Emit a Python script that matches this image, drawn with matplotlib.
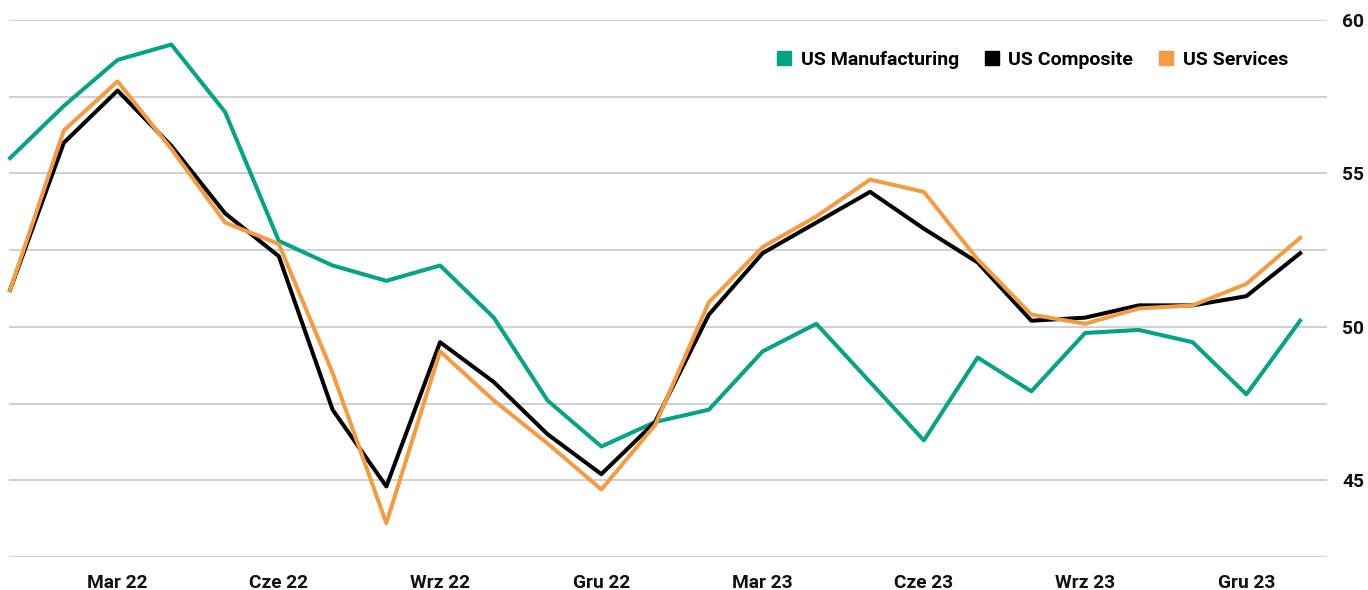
import matplotlib.pyplot as plt
from matplotlib.lines import Line2D
from matplotlib.ticker import MultipleLocator, FuncFormatter
import numpy as np

months = ["Sty 22", "Lut 22", "Mar 22", "Kwi 22", "Maj 22", "Cze 22", "Lip 22",
          "Sie 22", "Wrz 22", "Paź 22", "Lis 22", "Gru 22",
          "Sty 23", "Lut 23", "Mar 23", "Kwi 23", "Maj 23", "Cze 23", "Lip 23",
          "Sie 23", "Wrz 23", "Paź 23", "Lis 23", "Gru 23", "Sty 24"]

manufacturing = [55.5, 57.2, 58.7, 59.2, 57.0, 52.8, 52.0, 51.5, 52.0, 50.3,
                 47.6, 46.1, 46.9, 47.3, 49.2, 50.1, 48.2, 46.3, 49.0, 47.9,
                 49.8, 49.9, 49.5, 47.8, 50.2]
composite = [51.2, 56.0, 57.7, 55.9, 53.7, 52.3, 47.3, 44.8, 49.5, 48.2,
             46.5, 45.2, 46.9, 50.4, 52.4, 53.4, 54.4, 53.2, 52.1, 50.2,
             50.3, 50.7, 50.7, 51.0, 52.4]
services = [51.2, 56.4, 58.0, 55.8, 53.4, 52.7, 48.5, 43.6, 49.2, 47.6,
            46.2, 44.7, 46.8, 50.8, 52.6, 53.6, 54.8, 54.4, 52.2, 50.4,
            50.1, 50.6, 50.7, 51.4, 52.9]

green = "#00a383"
orange = "#f39c43"
black = "#000000"

plt.rcParams["font.family"] = ["Roboto", "DejaVu Sans"]
plt.rcParams["font.weight"] = "bold"

fig = plt.figure(figsize=(13.68, 5.90), dpi=100)
ax = fig.add_axes([9 / 1368, 1 - 557 / 590, (1327 - 9) / 1368, (557 - 20) / 590])

x = np.arange(len(months))
ax.plot(x, manufacturing, color=green, lw=2.9, clip_on=False, zorder=3)
ax.plot(x, composite, color=black, lw=2.9, clip_on=False, zorder=4)
ax.plot(x, services, color=orange, lw=2.9, clip_on=False, zorder=5)

ax.set_xlim(-0.02, 24.5)
ax.set_ylim(42.5, 60)

ax.yaxis.set_major_locator(MultipleLocator(2.5))
ax.yaxis.set_major_formatter(FuncFormatter(lambda v, p: f"{v:.0f}" if abs(v % 5) < 1e-6 else ""))
ax.yaxis.tick_right()
ax.grid(axis="y", color="#d0d0d0", lw=1.4)
ax.set_axisbelow(True)

tick_idx = list(range(2, len(months), 3))
ax.set_xticks(tick_idx)
ax.set_xticklabels([months[i] for i in tick_idx])

ax.tick_params(axis="both", length=0, labelsize=13.8, labelcolor="#111111")
ax.tick_params(axis="y", pad=11)
ax.tick_params(axis="x", pad=12)
for s in ax.spines.values():
    s.set_visible(False)

handles = [Line2D([], [], ls="none", marker="s", ms=9.5, color=c)
           for c in (green, black, orange)]
ax.legend(handles, ["US Manufacturing", "US Composite", "US Services"],
          ncol=3, frameon=False, loc="center right",
          bbox_to_anchor=(1298 / 1368, 1 - 60 / 590), bbox_transform=fig.transFigure,
          prop={"size": 14, "weight": "bold"},
          handlelength=0.7, handletextpad=0.5, columnspacing=1.35, borderpad=0)

fig.savefig("out.png", dpi=100)
